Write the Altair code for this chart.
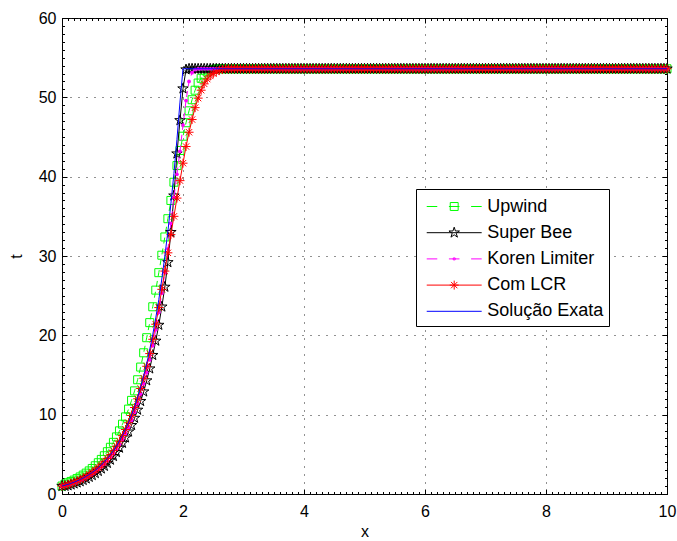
import altair as alt
import pandas as pd

FONT = "Liberation Sans"

# Sampling grid of the schemes: dx = 0.05 on [0, 10]
X = [round(0.05 * i, 2) for i in range(201)]
# Level reached by every curve after the front (x > ~2.7)
PLATEAU = 53.6

# Values of t from x = 0 in steps of 0.05, up to where each curve joins the plateau
UPWIND = [1.00, 1.25, 1.42, 1.58, 1.75, 1.94, 2.15, 2.38, 2.63, 2.91,
          3.22, 3.56, 3.94, 4.36, 4.82, 5.33, 5.89, 6.51, 7.20, 7.96,
          8.80, 9.72, 10.7, 11.8, 13.0, 14.4, 16.0, 17.8, 19.7, 21.6,
          23.6, 25.7, 27.9, 30.1, 32.4, 34.7, 37.0, 39.3, 41.4, 43.3,
          45.1, 46.8, 48.3, 49.7, 50.9, 51.8, 52.4, 52.9, 53.2, 53.4,
          53.5]
SUPER_BEE = [1.00, 1.00, 1.06, 1.17, 1.30, 1.43, 1.58, 1.75, 1.93, 2.14,
             2.36, 2.61, 2.88, 3.19, 3.52, 3.89, 4.30, 4.76, 5.26, 5.81,
             6.42, 7.10, 7.85, 8.67, 9.58, 10.6, 11.7, 12.9, 14.3, 15.8,
             17.5, 19.3, 21.3, 23.6, 26.1, 29.2, 33.0, 37.6, 42.9, 47.1,
             51.1, 53.5]
KOREN = [1.00, 1.05, 1.14, 1.26, 1.39, 1.54, 1.70, 1.88, 2.07, 2.29,
         2.53, 2.80, 3.09, 3.42, 3.78, 4.18, 4.61, 5.10, 5.64, 6.23,
         6.89, 7.61, 8.41, 9.30, 10.3, 11.4, 12.6, 13.9, 15.3, 16.9,
         18.7, 20.7, 22.9, 25.3, 27.9, 30.9, 34.1, 37.4, 40.3, 43.2,
         46.5, 49.6, 52.0, 53.1, 53.5]
COM_LCR = [1.00, 1.10, 1.22, 1.35, 1.49, 1.65, 1.82, 2.01, 2.23, 2.46,
           2.72, 3.00, 3.32, 3.67, 4.05, 4.47, 4.94, 5.46, 6.03, 6.66,
           7.36, 8.13, 8.98, 9.90, 10.9, 12.0, 13.3, 14.6, 16.1, 17.7,
           19.5, 21.4, 23.5, 25.8, 28.1, 30.4, 32.7, 35.0, 37.3, 39.5,
           41.7, 43.8, 45.6, 47.2, 48.7, 49.9, 50.9, 51.7, 52.3, 52.7,
           53.0, 53.2, 53.4, 53.5]
EXATA = [1.00, 1.11, 1.22, 1.35, 1.49, 1.65, 1.82, 2.01, 2.23, 2.46,
         2.72, 3.00, 3.32, 3.67, 4.06, 4.48, 4.95, 5.47, 6.05, 6.69,
         7.39, 8.17, 9.03, 9.97, 11.0, 12.2, 13.5, 14.9, 16.4, 18.2,
         20.1, 22.2, 24.5, 27.1, 30.0, 33.1, 36.6, 40.4, 44.7, 49.4,
         53.6]

SERIES = ["Upwind", "Super Bee", "Koren Limiter", "Com LCR", "Solução Exata"]
COLORS = ["#00ff00", "#000000", "#ff00ff", "#ff0000", "#0000ff"]
RISES = [UPWIND, SUPER_BEE, KOREN, COM_LCR, EXATA]

X_TICKS = [0, 2, 4, 6, 8, 10]
Y_TICKS = [0, 10, 20, 30, 40, 50, 60]
X_MINOR = [round(0.1 * i, 1) for i in range(101)]
Y_MINOR = list(range(61))

W, H = 605, 476


def frame(name, rise):
    values = rise + [PLATEAU] * (len(X) - len(rise))
    return pd.DataFrame({"serie": name, "x": X, "t": values})


frames = [frame(n, r) for n, r in zip(SERIES, RISES)]
all_data = pd.concat(frames, ignore_index=True)

# marker glyphs (unit coordinates)
STAR_PTS = [(0, -1), (0.225, -0.309), (0.951, -0.309), (0.363, 0.118),
            (0.588, 0.809), (0, 0.382), (-0.588, 0.809), (-0.363, 0.118),
            (-0.951, -0.309), (-0.225, -0.309)]


def star(r):
    pts = ["%.3f,%.3f" % (px * r, py * r) for px, py in STAR_PTS]
    return "M" + "L".join(pts) + "Z"


def asterisk(r):
    d = r * 0.707
    return ("M%.3f,0H%.3fM0,%.3fV%.3fM%.3f,%.3fL%.3f,%.3fM%.3f,%.3fL%.3f,%.3f"
            % (-r, r, -r, r, -d, -d, d, d, -d, d, d, -d))


def square(r):
    return "M%.3f,%.3fH%.3fV%.3fH%.3fZ" % (-r, -r, r, r, -r)


STAR = star(1)
ASTER = asterisk(1)

# legend samples: 55 px line with the marker in the middle (1 unit = 12 px)
SOLID = "M-2.29,0H2.29"
DASHED = "M-2.29,0H-1.41M-0.44,0H0.44M1.41,0H2.29"
LEGEND_GLYPHS = [
    DASHED + square(0.33),
    SOLID + star(0.46),
    DASHED + square(0.08),
    SOLID + asterisk(0.375),
    SOLID,
]

XS = alt.Scale(domain=[0, 10], nice=False, zero=False)
YS = alt.Scale(domain=[0, 60], nice=False)

GRID = dict(grid=True, gridColor="#222222", gridDash=[1, 7], gridWidth=1)
AX_X = alt.Axis(orient="bottom", values=X_TICKS, title="x", ticks=False, tickSize=0,
                domain=False, labelPadding=9, labelFlush=False, labelOverlap=False,
                titlePadding=4, **GRID)
AX_Y = alt.Axis(orient="left", values=Y_TICKS, title="t", ticks=False, tickSize=0,
                domain=False, labelPadding=6, labelFlush=False, labelOverlap=False,
                titlePadding=14, **GRID)


def tick_axis(orient, offset, values, size):
    # tick-only axis pushed across the plot so its ticks point inwards
    return alt.Axis(orient=orient, offset=offset, values=values, tickSize=size,
                    ticks=True, labels=False, domain=False, grid=False, title=None,
                    tickColor="black", tickWidth=1)


AXES = [
    (AX_X, AX_Y),
    (tick_axis("top", -H, X_TICKS, 5), tick_axis("right", -W, Y_TICKS, 5)),
    (tick_axis("bottom", -H, X_TICKS, 5), tick_axis("left", -W, Y_TICKS, 5)),
    (tick_axis("top", -H, X_MINOR, 2.5), tick_axis("right", -W, Y_MINOR, 2.5)),
    (tick_axis("bottom", -H, X_MINOR, 2.5), tick_axis("left", -W, Y_MINOR, 2.5)),
]


def xy(i):
    if i < len(AXES):
        ax, ay = AXES[i]
        return dict(x=alt.X("x:Q", scale=XS, axis=ax), y=alt.Y("t:Q", scale=YS, axis=ay))
    return dict(x=alt.X("x:Q", scale=XS, axis=None), y=alt.Y("t:Q", scale=YS, axis=None))


marks = [
    (0, alt.MarkDef(type="line", color=COLORS[0], strokeWidth=1, strokeDash=[6, 5])),
    (0, alt.MarkDef(type="point", shape="square", size=64, filled=False,
                    color=COLORS[0], strokeWidth=1, opacity=1)),
    (1, alt.MarkDef(type="line", color=COLORS[1], strokeWidth=1)),
    (1, alt.MarkDef(type="point", shape=STAR, size=121, filled=False,
                    color=COLORS[1], strokeWidth=1, opacity=1)),
    (2, alt.MarkDef(type="line", color=COLORS[2], strokeWidth=1, strokeDash=[6, 5])),
    (2, alt.MarkDef(type="point", shape="circle", size=14, filled=True,
                    color=COLORS[2], opacity=1)),
    (3, alt.MarkDef(type="line", color=COLORS[3], strokeWidth=1)),
    (3, alt.MarkDef(type="point", shape=ASTER, size=81, filled=False,
                    color=COLORS[3], strokeWidth=1, opacity=1)),
    (4, alt.MarkDef(type="line", color=COLORS[4], strokeWidth=1)),
]

layers = [alt.Chart(frames[k], mark=mark).encode(**xy(i))
          for i, (k, mark) in enumerate(marks)]

LEGEND = alt.Legend(orient="none", legendX=354, legendY=171, title=None, padding=5,
                    rowPadding=4.2, symbolSize=576, symbolStrokeWidth=1,
                    symbolOffset=20.7, labelOffset=20.6, labelFont=FONT,
                    labelFontSize=18, labelColor="black", labelLimit=400,
                    strokeColor="black", fillColor="white", cornerRadius=0)

legend_layer = alt.Chart(all_data).mark_point(filled=False, opacity=1, strokeWidth=1).encode(
    x=alt.X("x:Q", scale=XS, axis=None),
    y=alt.Y("t:Q", scale=YS, axis=None),
    color=alt.Color("serie:N", scale=alt.Scale(domain=SERIES, range=COLORS), legend=LEGEND),
    shape=alt.Shape("serie:N", scale=alt.Scale(domain=SERIES, range=LEGEND_GLYPHS), legend=LEGEND),
).transform_filter("false")

chart = alt.layer(*layers, legend_layer).resolve_axis(
    x="independent", y="independent"
).properties(
    width=W, height=H,
    padding={"left": 62, "top": 18, "right": 10, "bottom": 47},
    autosize=alt.AutoSizeParams(type="none"),
    background="white",
).configure_view(
    stroke="black", strokeWidth=1
).configure_axis(
    labelFont=FONT, labelFontSize=16, labelColor="black",
    titleFont=FONT, titleFontSize=16, titleFontWeight="normal", titleColor="black",
)

chart.save("out.html", embed_options={"renderer": "svg", "actions": False})
